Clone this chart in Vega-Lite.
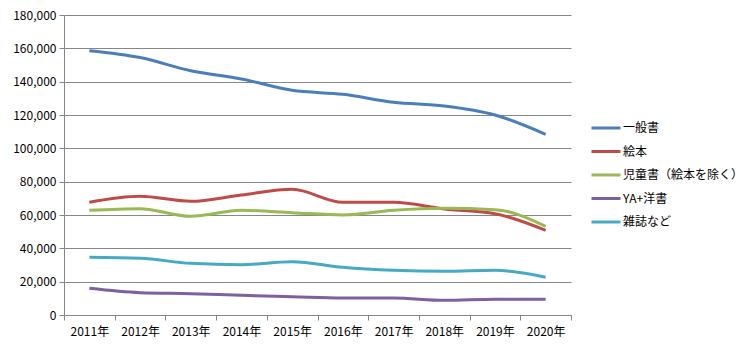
{
  "$schema": "https://vega.github.io/schema/vega-lite/v6.json",
  "width": 507,
  "height": 300,
  "autosize": {"type": "none"},
  "padding": {"left": 64, "top": 15, "right": 176, "bottom": 36},
  "background": "#ffffff",
  "config": {
    "view": {"stroke": null},
    "font": "Noto Sans CJK JP",
    "axis": {"labelFont": "Noto Sans CJK JP", "labelFontSize": 12, "labelColor": "#000000", "domainColor": "#868686", "tickColor": "#868686", "gridColor": "#868686", "tickSize": 5, "labelPadding": 3},
    "legend": {"labelFont": "Noto Sans CJK JP", "labelFontSize": 12, "labelColor": "#000000"}
  },
  "data": {
    "values": [
      {"year": "2011年", "cat": "一般書", "v": 158600},
      {"year": "2012年", "cat": "一般書", "v": 154500},
      {"year": "2013年", "cat": "一般書", "v": 146600},
      {"year": "2014年", "cat": "一般書", "v": 141600},
      {"year": "2015年", "cat": "一般書", "v": 134800},
      {"year": "2016年", "cat": "一般書", "v": 132400},
      {"year": "2017年", "cat": "一般書", "v": 127600},
      {"year": "2018年", "cat": "一般書", "v": 125400},
      {"year": "2019年", "cat": "一般書", "v": 120000},
      {"year": "2020年", "cat": "一般書", "v": 108400},
      {"year": "2011年", "cat": "絵本", "v": 67600},
      {"year": "2012年", "cat": "絵本", "v": 71200},
      {"year": "2013年", "cat": "絵本", "v": 68200},
      {"year": "2014年", "cat": "絵本", "v": 72000},
      {"year": "2015年", "cat": "絵本", "v": 75400},
      {"year": "2016年", "cat": "絵本", "v": 67600},
      {"year": "2017年", "cat": "絵本", "v": 67600},
      {"year": "2018年", "cat": "絵本", "v": 63600},
      {"year": "2019年", "cat": "絵本", "v": 60800},
      {"year": "2020年", "cat": "絵本", "v": 50800},
      {"year": "2011年", "cat": "児童書（絵本を除く）", "v": 62800},
      {"year": "2012年", "cat": "児童書（絵本を除く）", "v": 63800},
      {"year": "2013年", "cat": "児童書（絵本を除く）", "v": 59200},
      {"year": "2014年", "cat": "児童書（絵本を除く）", "v": 62800},
      {"year": "2015年", "cat": "児童書（絵本を除く）", "v": 61400},
      {"year": "2016年", "cat": "児童書（絵本を除く）", "v": 60000},
      {"year": "2017年", "cat": "児童書（絵本を除く）", "v": 62800},
      {"year": "2018年", "cat": "児童書（絵本を除く）", "v": 64000},
      {"year": "2019年", "cat": "児童書（絵本を除く）", "v": 63200},
      {"year": "2020年", "cat": "児童書（絵本を除く）", "v": 53200},
      {"year": "2011年", "cat": "YA+洋書", "v": 16000},
      {"year": "2012年", "cat": "YA+洋書", "v": 13400},
      {"year": "2013年", "cat": "YA+洋書", "v": 12800},
      {"year": "2014年", "cat": "YA+洋書", "v": 11800},
      {"year": "2015年", "cat": "YA+洋書", "v": 11000},
      {"year": "2016年", "cat": "YA+洋書", "v": 10200},
      {"year": "2017年", "cat": "YA+洋書", "v": 10200},
      {"year": "2018年", "cat": "YA+洋書", "v": 8800},
      {"year": "2019年", "cat": "YA+洋書", "v": 9400},
      {"year": "2020年", "cat": "YA+洋書", "v": 9400},
      {"year": "2011年", "cat": "雑誌など", "v": 34600},
      {"year": "2012年", "cat": "雑誌など", "v": 34000},
      {"year": "2013年", "cat": "雑誌など", "v": 31000},
      {"year": "2014年", "cat": "雑誌など", "v": 30200},
      {"year": "2015年", "cat": "雑誌など", "v": 32000},
      {"year": "2016年", "cat": "雑誌など", "v": 28600},
      {"year": "2017年", "cat": "雑誌など", "v": 26800},
      {"year": "2018年", "cat": "雑誌など", "v": 26200},
      {"year": "2019年", "cat": "雑誌など", "v": 26800},
      {"year": "2020年", "cat": "雑誌など", "v": 22600}
    ]
  },
  "mark": {"type": "line", "strokeWidth": 3, "interpolate": "monotone"},
  "encoding": {
    "x": {
      "field": "year", "type": "nominal", "bandPosition": 0.5,
      "scale": {"type": "band", "paddingInner": 0, "paddingOuter": 0},
      "axis": {"title": null, "labelAngle": 0, "tickBand": "extent", "labelPadding": 6, "grid": false}
    },
    "y": {
      "field": "v", "type": "quantitative",
      "scale": {"domain": [0, 180000]},
      "axis": {"title": null, "values": [0, 20000, 40000, 60000, 80000, 100000, 120000, 140000, 160000, 180000], "format": ",d", "grid": true}
    },
    "color": {
      "field": "cat", "type": "nominal",
      "scale": {"domain": ["一般書", "絵本", "児童書（絵本を除く）", "YA+洋書", "雑誌など"], "range": ["#4A7EBB", "#BE4B48", "#98B954", "#7D60A0", "#46AAC5"]},
      "legend": {"title": null, "orient": "none", "legendX": 526, "legendY": 97, "symbolType": "stroke", "symbolSize": 841, "symbolStrokeWidth": 3, "labelOffset": 1, "rowPadding": 1.5}
    }
  }
}
